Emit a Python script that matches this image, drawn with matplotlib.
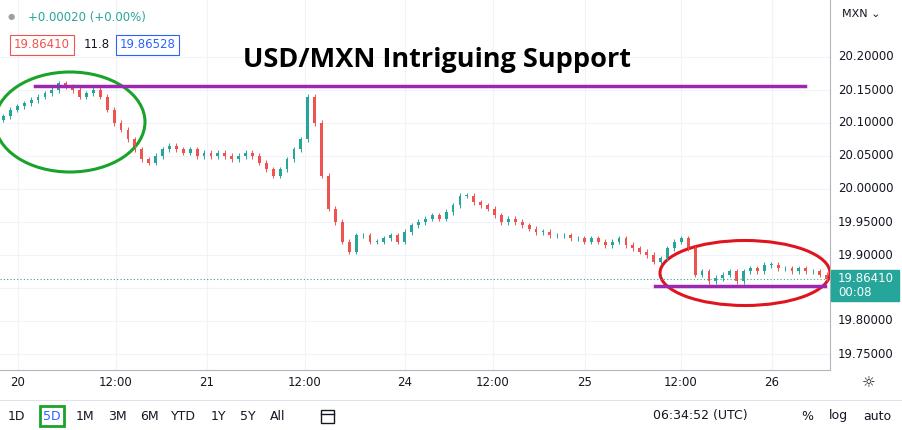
import matplotlib
matplotlib.use("Agg")
import matplotlib.pyplot as plt
from matplotlib.patches import Ellipse, Rectangle
import numpy as np

closes = [20.110,20.12,20.125,20.13,20.135,20.14,20.145,20.15,20.16,20.155,20.15,20.14,20.145,20.15,20.14,20.12,20.10,20.09,20.075,20.06,
20.045,20.04,20.05,20.06,20.065,20.06,20.055,20.06,20.05,20.055,20.05,20.055,20.05,20.045,20.05,20.055,20.05,20.04,20.03,20.02,
20.03,20.045,20.06,20.075,20.14,20.10,20.02,19.97,19.95,19.92,19.905,19.93,19.93,19.92,19.92,19.925,19.93,19.92,19.935,19.945,
19.95,19.955,19.96,19.955,19.965,19.975,19.99,19.99,19.98,19.975,19.97,19.96,19.95,19.955,19.95,19.945,19.94,19.935,19.935,19.93,
19.93,19.93,19.925,19.925,19.92,19.925,19.92,19.915,19.92,19.925,19.915,19.91,19.905,19.90,19.89,19.895,19.91,19.92,19.925,19.91,
19.87,19.875,19.86,19.865,19.87,19.875,19.86,19.875,19.88,19.875,19.885,19.885,19.88,19.88,19.875,19.88,19.875,19.875,19.87,19.864]
first_open = 20.105
yticks = [19.75,19.80,19.85,19.90,19.95,20.00,20.05,20.10,20.15,20.20]
xtick_px = [18,116,207,305,405,493,585,681,772]
xtick_labels = ["20","12:00","21","12:00","24","12:00","25","12:00","26"]
last_price = 19.86410
resist = 20.156
support = 19.853

N = len(closes)
W, H = 903, 430
fig = plt.figure(figsize=(W/100, H/100), dpi=100)
ax = fig.add_axes([0, 1-370/H, 830/W, 370/H])
ymin = 20.20 - 313*0.05/33
ymax = 20.20 + 57*0.05/33
ax.set_xlim(0, N); ax.set_ylim(ymin, ymax)
px2x = lambda p: p*N/830.0

opens = [first_open] + closes[:-1]
up, dn = "#26a69a", "#ef5350"
for i,(o,c) in enumerate(zip(opens, closes)):
    col = up if c >= o else dn
    lo, hi = min(o,c), max(o,c)
    ax.vlines(i+0.5, lo-0.004, hi+0.004, color=col, lw=0.7)
    ax.add_patch(Rectangle((i+0.3, lo), 0.4, max(hi-lo, 0.0008), color=col, lw=0))

for t in yticks:
    ax.axhline(t, color="#f0f3fa", lw=0.8, zorder=0)
for p in xtick_px:
    ax.axvline(px2x(p), color="#f0f3fa", lw=0.8, zorder=0)
ax.set_xticks([]); ax.set_yticks([])
for s in ["top","left"]:
    ax.spines[s].set_visible(False)
ax.spines["right"].set_color("#b2b5be"); ax.spines["bottom"].set_color("#b2b5be")

ax.axhline(last_price, color=up, lw=0.8, ls=(0,(1,2)))
ax.plot([px2x(35), px2x(805)], [resist, resist], color="#9c27b0", lw=2.5)
ax.plot([px2x(655), px2x(825)], [support, support], color="#9c27b0", lw=2.5)
k = 0.05/33
ax.add_patch(Ellipse((px2x(70), 20.20-(122-57)*k), px2x(150), 100*k, fill=False, ec="#1aa32a", lw=2.2))
ax.add_patch(Ellipse((px2x(745), 20.20-(273-57)*k), px2x(170), 65*k, fill=False, ec="#e0141e", lw=2.2))

ax.text(437/830, 1-60/370, "USD/MXN Intriguing Support", transform=ax.transAxes, ha="center", va="center",
        fontsize=19.5, fontweight="bold", family="Open Sans")

def fy(p): return 1 - p/H
for t in yticks:
    if t == 19.85:
        continue
    y = (t - ymin)/(ymax-ymin)*370/H + (1-370/H)
    fig.text(838/W, y, f"{t:.5f}", fontsize=8.5, color="#131722", va="center")
for p, l in zip(xtick_px, xtick_labels):
    fig.text(p/W, fy(383), l, fontsize=8.5, color="#131722", ha="center", va="center")
fig.patches.append(Rectangle((831/W, fy(301)), 68/W, 31/H, transform=fig.transFigure, color=up))
fig.text(838/W, fy(278), "19.86410", color="white", fontsize=8.5, va="center")
fig.text(838/W, fy(293), "00:08", color="white", fontsize=8.5, va="center")
fig.text(842/W, fy(14), "MXN ⌄", fontsize=8, color="#131722", va="center")
fig.text(862/W, fy(383), "☼", fontsize=11, color="#131722", va="center")

fig.text(8/W, fy(17), "●", fontsize=6, color="#9aa0a6", va="center")
fig.text(28/W, fy(17), "+0.00020 (+0.00%)", fontsize=8.5, color=up, va="center")
fig.text(14/W, fy(45), "19.86410", fontsize=8.5, color=dn, va="center",
         bbox=dict(boxstyle="square,pad=0.3", fc="white", ec=dn, lw=0.8))
fig.text(84/W, fy(45), "11.8", fontsize=8.5, color="#131722", va="center")
fig.text(120/W, fy(45), "19.86528", fontsize=8.5, color="#2962ff", va="center",
         bbox=dict(boxstyle="square,pad=0.3", fc="white", ec="#2962ff", lw=0.8))

fig.add_artist(plt.Line2D([0,1],[fy(400)]*2, color="#e0e3eb", lw=0.8))
items = [("1D",16),("5D",52),("1M",85),("3M",117),("6M",149),("YTD",183),("1Y",218),("5Y",248),("All",278)]
for l, p in items:
    fig.text(p/W, fy(416), l, fontsize=9, color="#131722" if l!="5D" else "#2962ff", ha="center", va="center",
             bbox=dict(boxstyle="square,pad=0.25", fc="white", ec="#1aa32a", lw=2) if l=="5D" else None)
# calendar icon
fig.patches.append(Rectangle((321/W, fy(423)), 13/W, 13/H, transform=fig.transFigure, fill=False, ec="#131722", lw=1))
fig.add_artist(plt.Line2D([321/W, 334/W], [fy(414)]*2, color="#131722", lw=1))
fig.text(700/W, fy(416), "06:34:52 (UTC)", fontsize=9, color="#131722", ha="center", va="center")
fig.text(807/W, fy(416), "%", fontsize=9, color="#131722", ha="center", va="center")
fig.text(838/W, fy(416), "log", fontsize=9, color="#131722", ha="center", va="center")
fig.text(877/W, fy(416), "auto", fontsize=9, color="#131722", ha="center", va="center")
fig.savefig("out.png", dpi=100)
